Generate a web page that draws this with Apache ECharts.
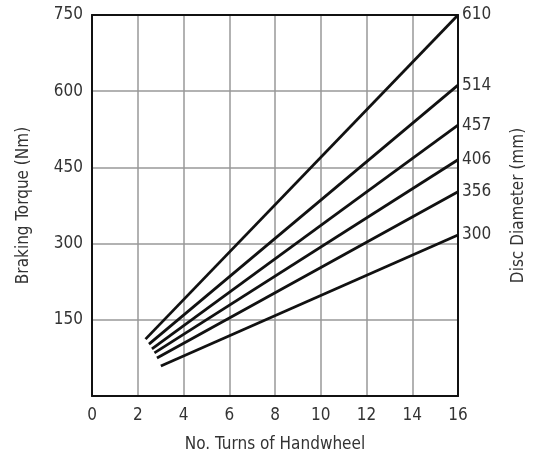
<!DOCTYPE html>
<html>
<head>
<meta charset="utf-8">
<script src="https://cdn.jsdelivr.net/npm/echarts@6/dist/echarts.min.js"></script>
<style>html,body{margin:0;padding:0;background:#fff}#c{width:540px;height:459px}</style>
</head>
<body>
<div id="c"></div>
<script>
// Disc diameters (mm) and line end-points
var diameters = ['610', '514', '457', '406', '356', '300'];
var startTurns = [2.34, 2.49, 2.62, 2.73, 2.84, 3.01];
var startTorque = [112, 102, 93, 85, 75, 59];
var endTurns = [16, 16, 16, 16, 16, 16];
var endTorque = [750, 612, 533, 465, 402, 317];
var xTicks = [0, 2, 4, 6, 8, 10, 12, 14, 16];
var yTicks = [0, 150, 300, 450, 600, 750];

var FONT = '"DejaVu Sans Condensed", "DejaVu Sans", sans-serif';
var FRAME = {show: true, onZero: false, lineStyle: {color: '#111', width: 2}};
var chart = echarts.init(document.getElementById('c'), null, {renderer: 'canvas'});
var series = diameters.map(function (d, i) {
  return {
    name: d,
    type: 'line',
    data: [[startTurns[i], startTorque[i]], [endTurns[i], endTorque[i]]],
    symbol: 'none',
    silent: true,
    lineStyle: {color: '#111', width: 2.8},
    endLabel: {show: true, formatter: '{a}', color: '#333', fontSize: 17, fontFamily: FONT, distance: 4}
  };
});
chart.setOption({
  animation: false,
  grid: {left: 92, right: 82, top: 15, bottom: 63, containLabel: false},
  xAxis: [{
    type: 'value', min: xTicks[0], max: xTicks[xTicks.length - 1], interval: 2,
    name: 'No. Turns of Handwheel', nameLocation: 'middle', nameGap: 40,
    nameTextStyle: {color: '#333', fontSize: 17, fontFamily: FONT},
    axisLine: FRAME, axisTick: {show: false},
    axisLabel: {color: '#333', fontSize: 17, fontFamily: FONT, margin: 11},
    splitLine: {show: true, lineStyle: {color: '#999', width: 1.5}}
  }, {
    type: 'value', position: 'top', min: xTicks[0], max: xTicks[xTicks.length - 1], interval: 2,
    axisLine: FRAME, axisTick: {show: false}, axisLabel: {show: false}, splitLine: {show: false}
  }],
  yAxis: [{
    type: 'value', min: yTicks[0], max: yTicks[yTicks.length - 1], interval: 150,
    name: 'Braking Torque (Nm)', nameLocation: 'middle', nameGap: 60,
    nameTextStyle: {color: '#333', fontSize: 17, fontFamily: FONT},
    axisLine: FRAME, axisTick: {show: false},
    axisLabel: {color: '#333', fontSize: 17, fontFamily: FONT, margin: 9,
      formatter: function (v) { return v === 0 ? '' : String(v); }},
    splitLine: {show: true, lineStyle: {color: '#999', width: 1.5}}
  }, {
    type: 'value', min: yTicks[0], max: yTicks[yTicks.length - 1], interval: 150, position: 'right',
    name: 'Disc Diameter (mm)', nameLocation: 'middle', nameGap: 52, nameRotate: 90,
    nameTextStyle: {color: '#333', fontSize: 17, fontFamily: FONT},
    axisLine: FRAME, axisTick: {show: false}, axisLabel: {show: false}, splitLine: {show: false}
  }],
  series: series
});
</script>
</body>
</html>
